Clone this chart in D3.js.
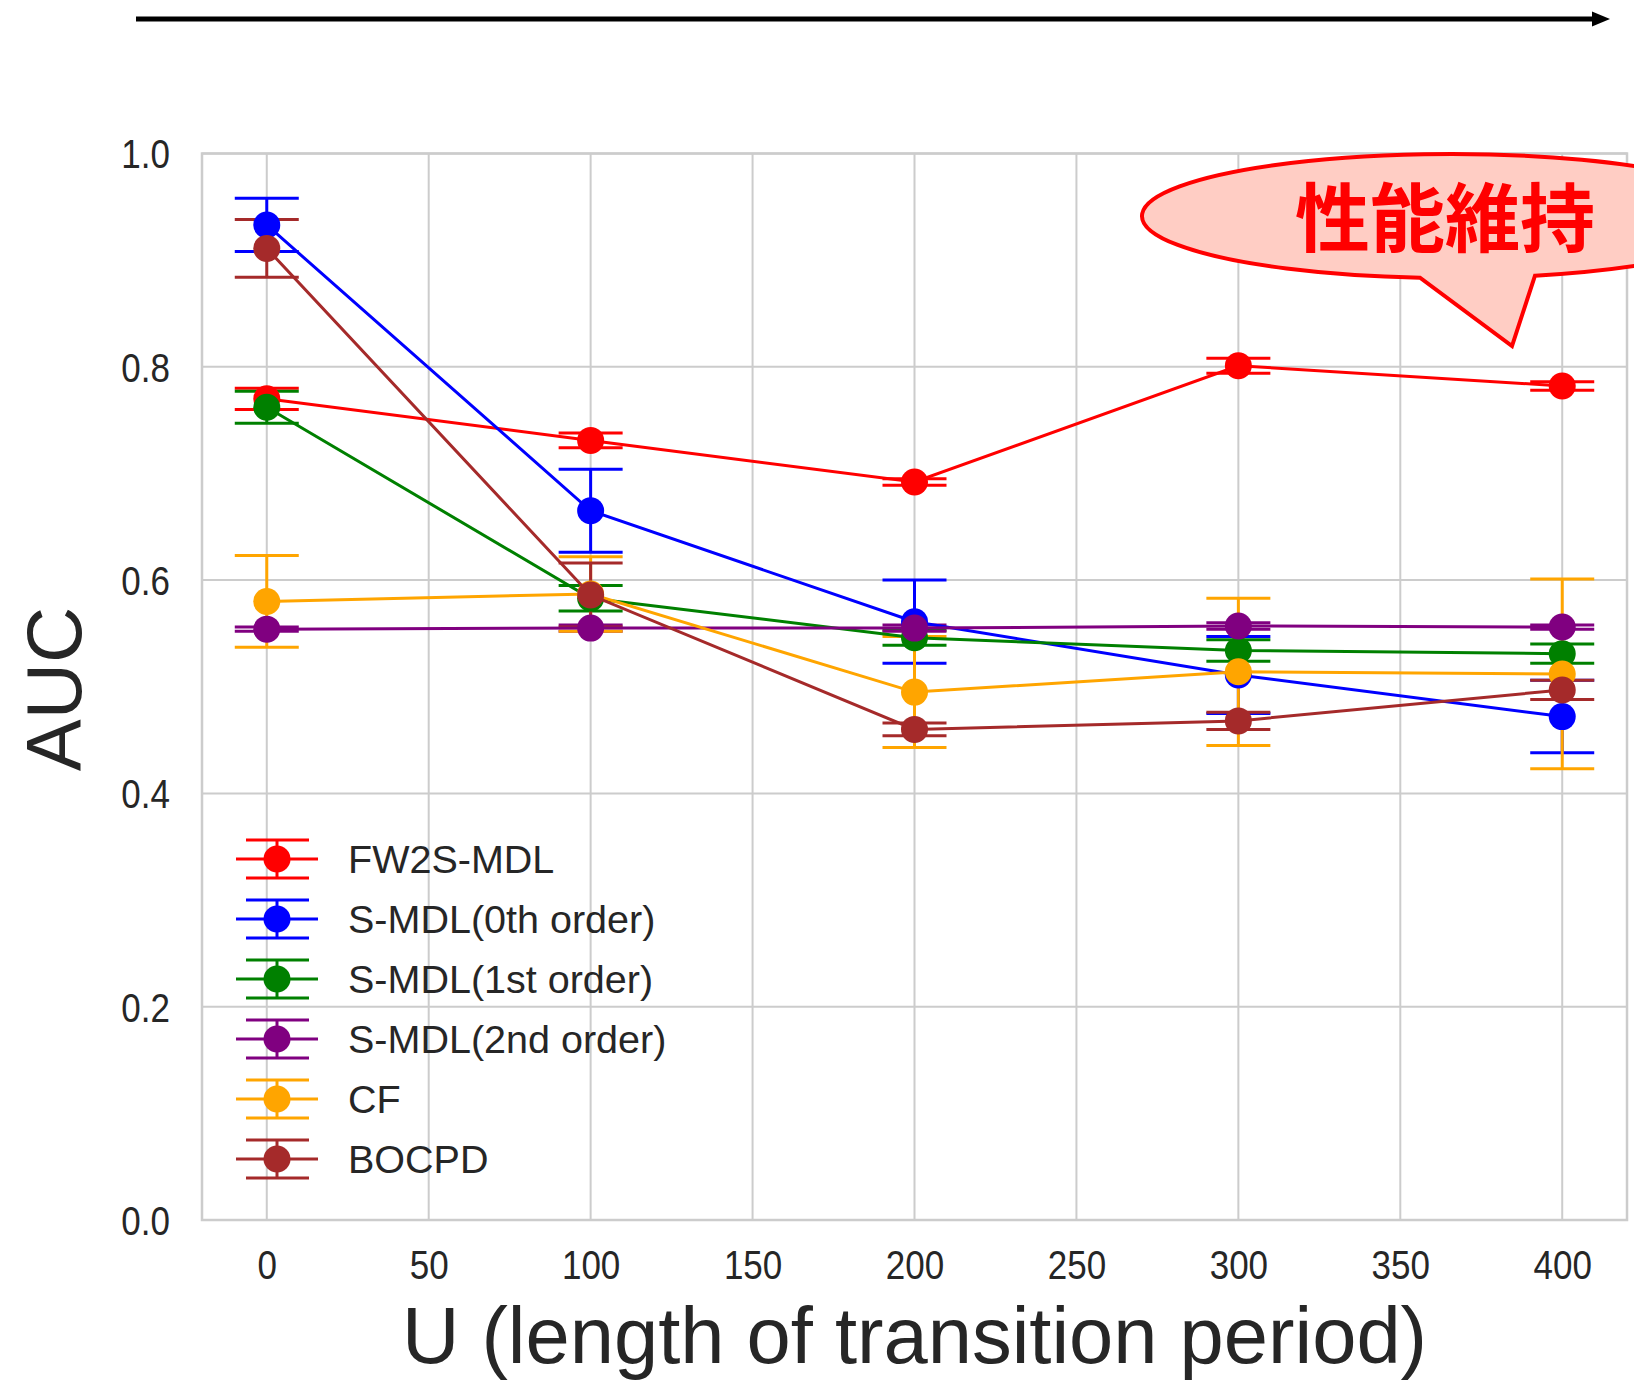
<!DOCTYPE html>
<html>
<head>
<meta charset="utf-8">
<script src="https://cdn.jsdelivr.net/npm/d3@7"></script>
<style>
  body { margin: 0; background: #fff; }
  svg { display: block; }
</style>
</head>
<body>
<div id="chart"></div>
<script>
// U values on the x axis
const uValues = [0, 100, 200, 300, 400];

const seriesNames = ["FW2S-MDL", "S-MDL(0th order)", "S-MDL(1st order)", "S-MDL(2nd order)", "CF", "BOCPD"];
const seriesColors = ["#ff0000", "#0000ff", "#008000", "#800080", "#ffa500", "#a52a2a"];

// mean AUC per series
const fw2sMean = [0.770, 0.731, 0.692, 0.801, 0.782];
const smdl0Mean = [0.933, 0.665, 0.561, 0.511, 0.472];
const smdl1Mean = [0.762, 0.583, 0.546, 0.534, 0.531];
const smdl2Mean = [0.554, 0.555, 0.555, 0.557, 0.556];
const cfMean = [0.580, 0.587, 0.495, 0.514, 0.512];
const bocpdMean = [0.911, 0.586, 0.460, 0.468, 0.497];

// error bar half-lengths
const fw2sErr = [0.010, 0.007, 0.003, 0.007, 0.004];
const smdl0Err = [0.025, 0.039, 0.039, 0.036, 0.034];
const smdl1Err = [0.015, 0.012, 0.007, 0.010, 0.009];
const smdl2Err = [0.002, 0.003, 0.003, 0.003, 0.002];
const cfErr = [0.043, 0.035, 0.052, 0.069, 0.089];
const bocpdErr = [0.027, 0.030, 0.006, 0.008, 0.009];

const xTickValues = [0, 50, 100, 150, 200, 250, 300, 350, 400];
const yTickValues = [0, 0.2, 0.4, 0.6, 0.8, 1.0];

const xLabel = "U (length of transition period)";
const yLabel = "AUC";
const calloutText = "性能維持";

const means = [fw2sMean, smdl0Mean, smdl1Mean, smdl2Mean, cfMean, bocpdMean];
const errs = [fw2sErr, smdl0Err, smdl1Err, smdl2Err, cfErr, bocpdErr];

const series = seriesNames.map((name, i) => ({
  name,
  color: seriesColors[i],
  points: uValues.map((u, j) => ({ u, v: means[i][j], e: errs[i][j] }))
}));

const W = 1634, H = 1397;
const plot = { left: 202, right: 1627, top: 153.5, bottom: 1220 };
const textColor = "#262626";
const font = "'Liberation Sans', Arial, sans-serif";
const capHalf = 32;
const markerR = 13.5;

const svg = d3.select("#chart")
  .append("svg")
  .attr("width", W)
  .attr("height", H)
  .attr("viewBox", `0 0 ${W} ${H}`);

svg.append("rect").attr("width", W).attr("height", H).attr("fill", "#fff");

const x = d3.scaleLinear().domain([-20, 420]).range([plot.left, plot.right]);
const y = d3.scaleLinear().domain([0, 1]).range([plot.bottom, plot.top]);

// grid
const grid = svg.append("g").attr("stroke", "#cccccc").attr("stroke-width", 2);
grid.selectAll("line.gx")
  .data(xTickValues)
  .join("line")
  .attr("class", "gx")
  .attr("x1", d => x(d)).attr("x2", d => x(d))
  .attr("y1", plot.top).attr("y2", plot.bottom);
grid.selectAll("line.gy")
  .data(yTickValues)
  .join("line")
  .attr("class", "gy")
  .attr("x1", plot.left).attr("x2", plot.right)
  .attr("y1", d => y(d)).attr("y2", d => y(d));

svg.append("rect")
  .attr("x", plot.left).attr("y", plot.top)
  .attr("width", plot.right - plot.left)
  .attr("height", plot.bottom - plot.top)
  .attr("fill", "none")
  .attr("stroke", "#cccccc")
  .attr("stroke-width", 2.5);

// axes (labels only, seaborn style)
svg.append("g")
  .attr("transform", `translate(0,${plot.bottom})`)
  .call(d3.axisBottom(x).tickValues(xTickValues).tickSize(0).tickFormat(d3.format("d")))
  .call(g => g.select(".domain").remove())
  .selectAll("text")
  .attr("y", 0).attr("dy", null)
  .attr("transform", "translate(0,59) scale(1,1.15)")
  .attr("font-family", font)
  .attr("font-size", 35)
  .attr("fill", textColor);

svg.append("g")
  .attr("transform", `translate(${plot.left},0)`)
  .call(d3.axisLeft(y).tickValues(yTickValues).tickSize(0).tickFormat(d3.format(".1f")))
  .call(g => g.select(".domain").remove())
  .selectAll("text")
  .attr("x", 0).attr("dy", "0.358em")
  .attr("transform", "translate(-32,0) scale(1,1.15)")
  .attr("font-family", font)
  .attr("font-size", 35)
  .attr("fill", textColor);

// error bars first (matplotlib draws them under the data lines)
series.forEach(s => {
  const g = svg.append("g").attr("stroke", s.color).attr("stroke-width", 3);
  g.selectAll("line.bar")
    .data(s.points)
    .join("line")
    .attr("class", "bar")
    .attr("x1", d => x(d.u)).attr("x2", d => x(d.u))
    .attr("y1", d => y(d.v - d.e)).attr("y2", d => y(d.v + d.e));
  g.selectAll("line.cap")
    .data(s.points.flatMap(d => [d.v - d.e, d.v + d.e].map(v => ({ u: d.u, v }))))
    .join("line")
    .attr("class", "cap")
    .attr("x1", d => x(d.u) - capHalf).attr("x2", d => x(d.u) + capHalf)
    .attr("y1", d => y(d.v)).attr("y2", d => y(d.v));
});

const line = d3.line().x(d => x(d.u)).y(d => y(d.v));

series.forEach(s => {
  svg.append("path")
    .datum(s.points)
    .attr("d", line)
    .attr("fill", "none")
    .attr("stroke", s.color)
    .attr("stroke-width", 3);
  svg.append("g")
    .selectAll("circle")
    .data(s.points)
    .join("circle")
    .attr("cx", d => x(d.u))
    .attr("cy", d => y(d.v))
    .attr("r", markerR)
    .attr("fill", s.color);
});

// legend
const legend = svg.append("g");
const legendY0 = 859, legendStep = 60;
series.forEach((s, i) => {
  const ly = legendY0 + i * legendStep;
  const g = legend.append("g").attr("stroke", s.color).attr("stroke-width", 3);
  g.append("line").attr("x1", 277).attr("x2", 277).attr("y1", ly - 19).attr("y2", ly + 19);
  [ly - 19, ly + 19].forEach(cy => {
    g.append("line").attr("x1", 246).attr("x2", 309).attr("y1", cy).attr("y2", cy);
  });
  g.append("line").attr("x1", 236).attr("x2", 318).attr("y1", ly).attr("y2", ly);
  legend.append("circle").attr("cx", 277).attr("cy", ly).attr("r", markerR).attr("fill", s.color);
  legend.append("text")
    .attr("x", 348).attr("y", ly).attr("dy", "0.358em")
    .attr("font-family", font)
    .attr("font-size", 39.5)
    .attr("fill", textColor)
    .text(s.name);
});

// axis titles
svg.append("text")
  .attr("x", (plot.left + plot.right) / 2)
  .attr("y", 1363)
  .attr("text-anchor", "middle")
  .attr("font-family", font)
  .attr("font-size", 79.5)
  .attr("fill", textColor)
  .text(xLabel);

svg.append("text")
  .attr("transform", "translate(81,689) rotate(-90)")
  .attr("text-anchor", "middle")
  .attr("font-family", font)
  .attr("font-size", 78)
  .attr("fill", textColor)
  .text(yLabel);

// callout bubble
const cx = 1451, cy = 216, rx = 309, ry = 62;
const baseL = 1420, baseR = 1535;
const yOn = xv => cy + ry * Math.sqrt(1 - ((xv - cx) / rx) ** 2);
svg.append("path")
  .attr("d", `M${baseR},${yOn(baseR)} A${rx},${ry} 0 1 0 ${baseL},${yOn(baseL)} L1512,346 Z`)
  .attr("fill", "#ffcdc4")
  .attr("stroke", "#ff0000")
  .attr("stroke-width", 4)
  .attr("stroke-linejoin", "miter");

svg.append("text")
  .attr("x", 1445)
  .attr("y", 213)
  .attr("text-anchor", "middle")
  .attr("dominant-baseline", "central")
  .attr("font-family", "'Noto Sans CJK JP', 'Noto Sans CJK SC', sans-serif")
  .attr("font-weight", "bold")
  .attr("font-size", 75)
  .attr("fill", "#ff0000")
  .text(calloutText);

// arrow across the top
svg.append("line")
  .attr("x1", 136).attr("x2", 1594)
  .attr("y1", 19).attr("y2", 19)
  .attr("stroke", "#000")
  .attr("stroke-width", 5);
svg.append("path")
  .attr("d", "M1592,11.5 L1610,19 L1592,26.5 Z")
  .attr("fill", "#000");
</script>
</body>
</html>
